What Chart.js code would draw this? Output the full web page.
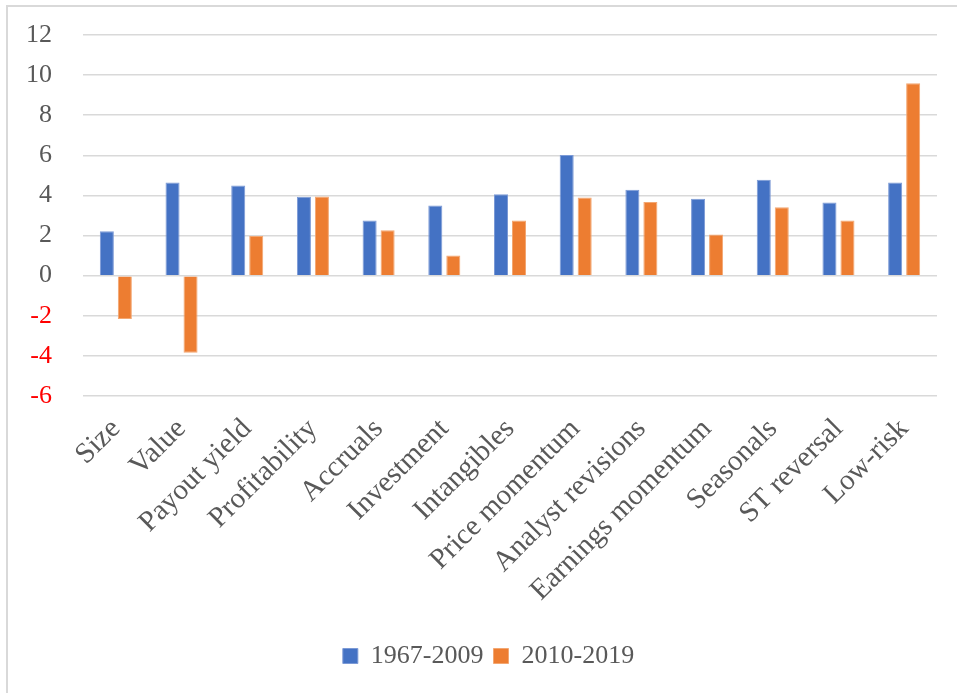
<!DOCTYPE html>
<html>
<head>
<meta charset="utf-8">
<script src="https://cdn.jsdelivr.net/npm/chart.js@4.4.0/dist/chart.umd.min.js"></script>
<style>
  html, body { margin: 0; padding: 0; background: #fff; overflow: hidden; }
  #wrap { position: relative; width: 957px; height: 693px; }
  #frame { position: absolute; left: 6px; top: 5px; width: 1000px; height: 800px;
           border-top: 2px solid #d9d9d9; border-left: 2px solid #d9d9d9; box-sizing: border-box; }
  canvas { position: absolute; left: 0; top: 0; }
</style>
</head>
<body>
<div id="wrap">
  <div id="frame"></div>
  <canvas id="c" width="957" height="693"></canvas>
</div>
<script>
const categories = ["Size", "Value", "Payout yield", "Profitability", "Accruals", "Investment",
  "Intangibles", "Price momentum", "Analyst revisions", "Earnings momentum", "Seasonals",
  "ST reversal", "Low-risk"];
const seriesNames = ["1967-2009", "2010-2019"];
const values1967_2009 = [2.22, 4.65, 4.50, 3.94, 2.75, 3.50, 4.06, 6.02, 4.28, 3.83, 4.78, 3.65, 4.65];
const values2010_2019 = [-2.16, -3.84, 1.98, 3.95, 2.26, 1.00, 2.75, 3.90, 3.67, 2.05, 3.41, 2.75, 9.60];
const yTicks = [-6, -4, -2, 0, 2, 4, 6, 8, 10, 12];

const FONT = "'Liberation Serif', 'Times New Roman', serif";
const TEXT = '#595959';

new Chart(document.getElementById('c'), {
  type: 'bar',
  data: {
    labels: categories,
    datasets: [
      { label: seriesNames[0], data: values1967_2009, backgroundColor: '#4472C4',
        borderColor: '#7c9ad6', borderWidth: 1, categoryPercentage: 0.548, barPercentage: 0.78 },
      { label: seriesNames[1], data: values2010_2019, backgroundColor: '#ED7D31',
        borderColor: '#f3a772', borderWidth: 1, categoryPercentage: 0.548, barPercentage: 0.78 }
    ]
  },
  options: {
    responsive: false,
    animation: false,
    layout: { padding: { left: 20, right: 0, top: 35, bottom: 14 } },
    plugins: {
      legend: {
        position: 'bottom',
        labels: { font: { family: FONT, size: 26 }, color: TEXT, boxWidth: 15, boxHeight: 15, padding: 10 }
      },
      tooltip: { enabled: false }
    },
    scales: {
      x: {
        grid: { display: false },
        border: { display: false },
        ticks: { font: { family: FONT, size: 29 }, color: TEXT, maxRotation: 45, minRotation: 45, padding: 8, autoSkip: false },
        afterFit: (s) => { s.height = 237; }
      },
      y: {
        min: -6, max: 12,
        afterBuildTicks: (s) => { s.ticks = yTicks.map(v => ({ value: v })); },
        grid: { color: '#d9d9d9', lineWidth: 1.5, drawTicks: false },
        border: { display: false },
        ticks: {
          font: { family: FONT, size: 26 },
          color: (ctx) => (ctx.tick && ctx.tick.value < 0) ? '#FF0000' : TEXT,
          padding: 31
        },
        afterFit: (s) => { s.width = 63; s.paddingTop = 0; s.paddingBottom = 0; }
      },
      yRight: {
        position: 'right',
        min: -6, max: 12,
        grid: { display: false, drawTicks: false },
        border: { display: false },
        ticks: { display: false },
        afterFit: (s) => { s.width = 20; s.paddingTop = 0; s.paddingBottom = 0; }
      }
    }
  }
});
</script>
</body>
</html>
